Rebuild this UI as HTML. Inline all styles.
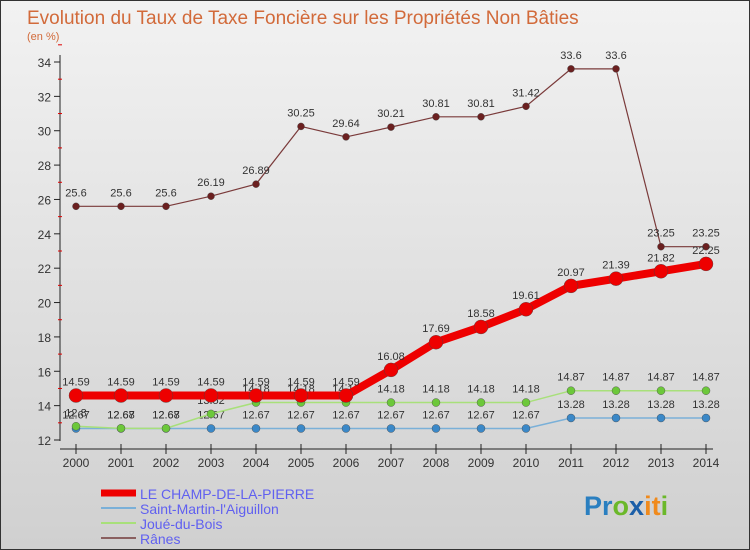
<!DOCTYPE html>
<html><head><meta charset="utf-8"><style>
body{margin:0;}
#c{width:750px;height:550px;position:relative;background:linear-gradient(#f2f2f2,#d0d0d0);font-family:"Liberation Sans",sans-serif;overflow:hidden;box-sizing:border-box;border:1px solid #333;}
</style></head><body>
<div id="c">
<svg id="s" width="750" height="550" style="position:absolute;left:0;top:0">
<text x="26" y="23" font-size="19" fill="#d26a3a">Evolution du Taux de Taxe Foncière sur les Propriétés Non Bâties</text>
<text x="26" y="39" font-size="11" fill="#d26a3a">(en %)</text>
<g id="axes"></g><g id="series"></g><g id="legend"></g>
<text x="583" y="514" font-size="27" font-weight="bold"><tspan fill="#2a7fc0">Pr</tspan><tspan fill="#6bb82a">o</tspan><tspan fill="#1c5fa8">x</tspan><tspan fill="#f08a1c">it</tspan><tspan fill="#6bb82a">i</tspan></text>
</svg>
</div>
<script>
const years=[2000,2001,2002,2003,2004,2005,2006,2007,2008,2009,2010,2011,2012,2013,2014];
const yTicks=[12,14,16,18,20,22,24,26,28,30,32,34];
const champ=[14.59,14.59,14.59,14.59,14.59,14.59,14.59,16.08,17.69,18.58,19.61,20.97,21.39,21.82,22.25];
const stMartin=[12.67,12.67,12.67,12.67,12.67,12.67,12.67,12.67,12.67,12.67,12.67,13.28,13.28,13.28,13.28];
const joue=[12.8,12.68,12.68,13.52,14.18,14.18,14.18,14.18,14.18,14.18,14.18,14.87,14.87,14.87,14.87];
const ranes=[25.6,25.6,25.6,26.19,26.89,30.25,29.64,30.21,30.81,30.81,31.42,33.6,33.6,23.25,23.25];
const names=["LE CHAMP-DE-LA-PIERRE","Saint-Martin-l'Aiguillon","Joué-du-Bois","Rânes"];
const NS="http://www.w3.org/2000/svg";
const X=i=>75+i*45, Y=v=>439-(v-12)*(378/22);
function mk(t,a,p){const e=document.createElementNS(NS,t);for(const k in a)e.setAttribute(k,a[k]);p.appendChild(e);return e;}
const ax=document.getElementById('axes');
let l=mk('line',{x1:59,y1:54,x2:59,y2:440,stroke:'#222'},ax);

l=mk('line',{x1:59,y1:448,x2:712,y2:448,stroke:'#222'},ax);

yTicks.forEach(v=>{const y=Y(v);mk('line',{x1:53,y1:y,x2:59,y2:y,stroke:'#222'},ax);
mk('line',{x1:57,y1:Y(v+1),x2:61,y2:Y(v+1),stroke:'#d00'},ax);
const t=mk('text',{x:50,y:y+5,'font-size':12,'text-anchor':'end',fill:'#333'},ax);t.textContent=v;
});
years.forEach((yr,i)=>{mk('line',{x1:X(i),y1:443,x2:X(i),y2:453,stroke:'#222'},ax);
const t=mk('text',{x:X(i),y:466,'font-size':12,'text-anchor':'middle',fill:'#333'},ax);t.textContent=yr;
});
const sg=document.getElementById('series');
const defs=[[ranes,'#7a3a3a','#6b2020',1.2,3.5,'ranes'],[stMartin,'#7ab0d8','#3a88c8',1.5,4,'saint-martin'],[joue,'#a8e07a','#6cc83a',1.5,4,'joue-du-bois'],[champ,'#ee0000','#ee0000',8,7,'champ-de-la-pierre']];
defs.forEach(([d,lc,pc,w,r,nm])=>{
const g=mk('g',{},sg);
const p=mk('polyline',{points:d.map((v,i)=>X(i)+','+Y(v)).join(' '),fill:'none',stroke:lc,'stroke-width':w},g);

d.forEach((v,i)=>{const c=mk('circle',{cx:X(i),cy:Y(v),r:r,fill:pc,stroke:'#444','stroke-width':0.4},g);

const t=mk('text',{x:X(i),y:Y(v)-10,'font-size':11,'text-anchor':'middle',fill:'#333'},g);t.textContent=v;
});});
const lg=document.getElementById('legend');
const lc=['#ee0000','#7ab0d8','#a8e07a','#8a6060'],lw=[7,2,2,2];
names.forEach((n,i)=>{const y=492+i*15;
const g=mk('g',{},lg);
mk('line',{x1:100,y1:y,x2:135,y2:y,stroke:lc[i],'stroke-width':lw[i]},g);
const t=mk('text',{x:139,y:y+6,'font-size':14,fill:'#6060f0'},g);t.textContent=n;});
</script>
</body></html>
